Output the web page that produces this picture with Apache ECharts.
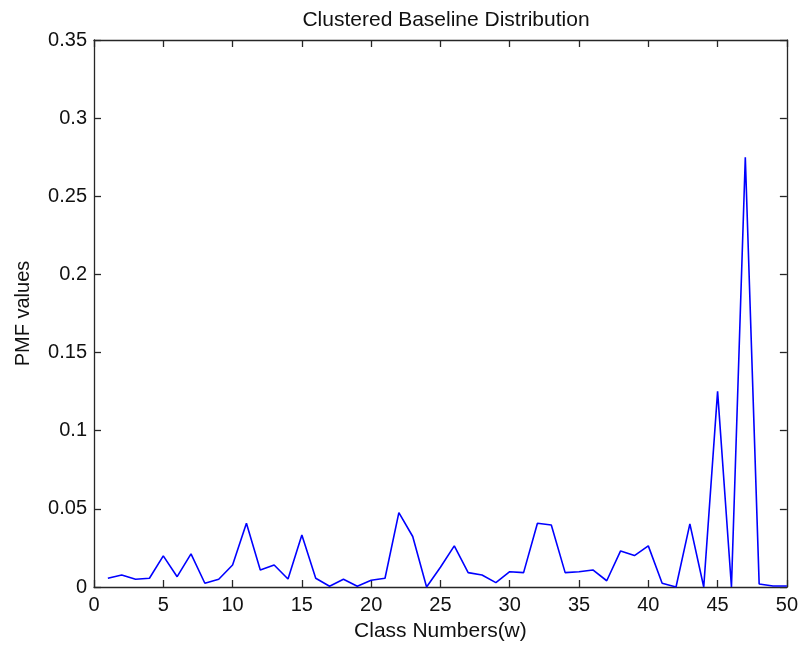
<!DOCTYPE html>
<html>
<head>
<meta charset="utf-8">
<title>Clustered Baseline Distribution</title>
<script src="https://cdn.jsdelivr.net/npm/echarts@6/dist/echarts.min.js"></script>
<style>
  html, body { margin: 0; padding: 0; background: #fff; }
  #chart { width: 801px; height: 647px; }
</style>
</head>
<body>
<div id="chart"></div>
<script>
// Class numbers w = 1..50
const classNumbers = [
  1, 2, 3, 4, 5, 6, 7, 8, 9, 10,
  11, 12, 13, 14, 15, 16, 17, 18, 19, 20,
  21, 22, 23, 24, 25, 26, 27, 28, 29, 30,
  31, 32, 33, 34, 35, 36, 37, 38, 39, 40,
  41, 42, 43, 44, 45, 46, 47, 48, 49, 50
];

// PMF value for each class
const pmfValues = [
  0.0056, 0.0077, 0.0050, 0.0056, 0.0199, 0.0066, 0.0212, 0.0024, 0.0050, 0.0141,
  0.0408, 0.0109, 0.0141, 0.0051, 0.0333, 0.0056, 0.0005, 0.0050, 0.0005, 0.0043,
  0.0056, 0.0476, 0.0323, 0.0000, 0.0126, 0.0263, 0.0092, 0.0077, 0.0028, 0.0098,
  0.0092, 0.0408, 0.0397, 0.0092, 0.0098, 0.0109, 0.0040, 0.0231, 0.0201, 0.0263,
  0.0024, 0.0000, 0.0404, 0.0000, 0.1252, 0.0000, 0.2750, 0.0019, 0.0006, 0.0006
];

const xTicks = [0, 5, 10, 15, 20, 25, 30, 35, 40, 45, 50];
const yTicks = [0, 0.05, 0.1, 0.15, 0.2, 0.25, 0.3, 0.35];

const FONT = '"Liberation Sans", Arial, sans-serif';
const INK = '#262626';
const TEXT = '#111111';

const chart = echarts.init(document.getElementById('chart'), null, { renderer: 'canvas' });

const frameLine = { show: true, onZero: false, lineStyle: { color: INK, width: 1.3 } };
const innerTick = { show: true, inside: true, length: 7, lineStyle: { color: INK, width: 1.3 } };

const xBase = {
  type: 'value',
  min: xTicks[0],
  max: xTicks[xTicks.length - 1],
  interval: 5,
  splitLine: { show: false },
  axisLine: frameLine,
  axisTick: innerTick
};
const yBase = {
  type: 'value',
  min: yTicks[0],
  max: yTicks[yTicks.length - 1],
  interval: 0.05,
  splitLine: { show: false },
  axisLine: frameLine,
  axisTick: innerTick
};

chart.setOption({
  backgroundColor: '#ffffff',
  animation: false,
  title: {
    text: 'Clustered Baseline Distribution',
    left: 441,
    textAlign: 'center',
    top: 5,
    textStyle: { fontFamily: FONT, fontSize: 21, fontWeight: 'normal', color: TEXT }
  },
  grid: { left: 94, right: 12, top: 40, bottom: 60, containLabel: false },
  xAxis: [
    Object.assign({}, xBase, {
      position: 'bottom',
      name: 'Class Numbers(w)',
      nameLocation: 'middle',
      nameGap: 34,
      nameTextStyle: { fontFamily: FONT, fontSize: 21, color: TEXT },
      axisLabel: {
        fontFamily: FONT, fontSize: 20, color: TEXT, margin: 8,
        formatter: v => String(v)
      }
    }),
    Object.assign({}, xBase, { position: 'top', axisLabel: { show: false } })
  ],
  yAxis: [
    Object.assign({}, yBase, {
      position: 'left',
      name: 'PMF values',
      nameLocation: 'middle',
      nameGap: 61,
      nameTextStyle: { fontFamily: FONT, fontSize: 20, color: TEXT },
      axisLabel: {
        fontFamily: FONT, fontSize: 20, color: TEXT, margin: 7,
        formatter: v => String(Math.round(v * 100) / 100)
      }
    }),
    Object.assign({}, yBase, { position: 'right', axisLabel: { show: false } })
  ],
  series: [{
    type: 'line',
    xAxisIndex: 0,
    yAxisIndex: 0,
    data: classNumbers.map((w, i) => [w, pmfValues[i]]),
    showSymbol: false,
    symbol: 'none',
    lineStyle: { color: '#0000ff', width: 1.6 },
    silent: true
  }]
});
</script>
</body>
</html>
